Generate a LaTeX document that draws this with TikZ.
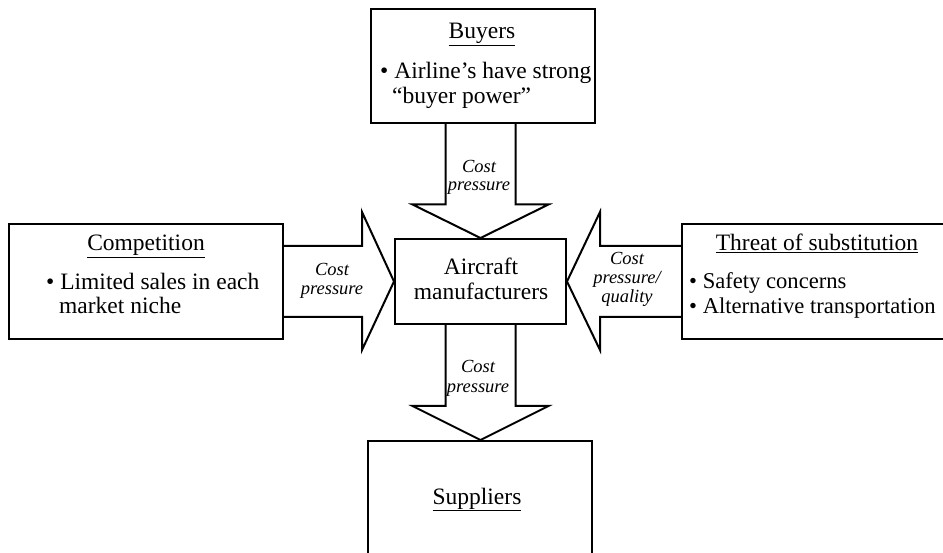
\documentclass[tikz,border=0pt]{standalone}
\usepackage{fontspec}
\setmainfont{Liberation Serif}
\usetikzlibrary{calc}
\begin{document}
\begin{tikzpicture}[x=1pt,y=-1pt,
  box/.style={draw,line width=2pt,inner sep=0pt},
  arr/.style={draw,line width=2pt,line join=miter},
  txt/.style={anchor=base,inner sep=0pt,font=\fontsize{23.5}{27}\selectfont},
  txtl/.style={txt,anchor=base west},
  txts/.style={txtl,font=\fontsize{22.6}{26}\selectfont},
  lbl/.style={anchor=base,inner sep=0pt,font=\fontsize{18.5}{21}\selectfont\itshape}]
\useasboundingbox (0,0) rectangle (943,553);
\clip (0,0) rectangle (943,553);
% boxes
\node[box,minimum width=224pt,minimum height=114pt] (buyers) at (483,66) {};
\node[box,minimum width=274pt,minimum height=115pt] (comp) at (146,281.5) {};
\node[box,minimum width=290pt,minimum height=115pt] (threat) at (827,281.5) {};
\node[box,minimum width=171pt,minimum height=85pt] (center) at (480.5,281.5) {};
\node[box,minimum width=224pt,minimum height=140pt] (suppliers) at (480,511) {};
% block arrows
\coordinate (P) at (buyers.south -| center.north);
\draw[arr] ($(P)+(-35,0)$) -- ($(P)+(-35,80.5)$) -- ($(P)+(-68,80.5)$) -- (center.north)
  -- ($(P)+(68,80.5)$) -- ($(P)+(35,80.5)$) -- ($(P)+(35,0)$);
\coordinate (Q) at (comp.east |- center.west);
\draw[arr] ($(Q)+(0,-35.5)$) -- ($(Q)+(78,-35.5)$) -- ($(Q)+(78,-69.5)$) -- (center.west)
  -- ($(Q)+(78,68.5)$) -- ($(Q)+(78,35.5)$) -- ($(Q)+(0,35.5)$);
\coordinate (R) at (threat.west |- center.east);
\draw[arr] ($(R)+(0,-35.5)$) -- ($(R)+(-81,-35.5)$) -- ($(R)+(-81,-69.5)$) -- (center.east)
  -- ($(R)+(-81,68.5)$) -- ($(R)+(-81,35.5)$) -- ($(R)+(0,35.5)$);
\coordinate (S) at (center.south);
\coordinate (T) at (suppliers.north -| center.south);
\draw[arr] ($(S)+(-35,0)$) -- ($(S)+(-35,81)$) -- ($(S)+(-68,81)$) -- (T)
  -- ($(S)+(68,81)$) -- ($(S)+(35,81)$) -- ($(S)+(35,0)$);
% box texts
\node[txt] (bh) at (482,39) {\underline{Buyers}};
\node[txtl] (b1) at (380,79) {\textbullet\ Airline's have strong};
\node[txtl] (b2) at (392,104) {``buyer power''};
\node[txt] (ch) at (146,251) {\underline{Competition}};
\node[txtl] (c1) at (46,290) {\textbullet\ Limited sales in each};
\node[txtl] (c2) at (59,314) {market niche};
\node[txt] (th) at (817,251) {\underline{Threat of substitution}};
\node[txts] (t1) at (689,289) {\textbullet\ Safety concerns};
\node[txts] (t2) at (689,314) {\textbullet\ Alternative transportation};
\node[txt] (m1) at (481,275) {Aircraft};
\node[txt] (m2) at (481,300) {manufacturers};
\node[txt] (sh) at (477,504) {\underline{Suppliers}};
% arrow labels
\node[lbl] (l1a) at (479,173) {Cost};
\node[lbl] (l1b) at (479,191) {pressure};
\node[lbl] (l2a) at (332,276) {Cost};
\node[lbl] (l2b) at (332,295) {pressure};
\node[lbl] (l3a) at (627,265) {Cost};
\node[lbl] (l3b) at (627,284) {pressure/};
\node[lbl] (l3c) at (627,303) {quality};
\node[lbl] (l4a) at (478,373) {Cost};
\node[lbl] (l4b) at (478,392) {pressure};
\end{tikzpicture}
\end{document}
